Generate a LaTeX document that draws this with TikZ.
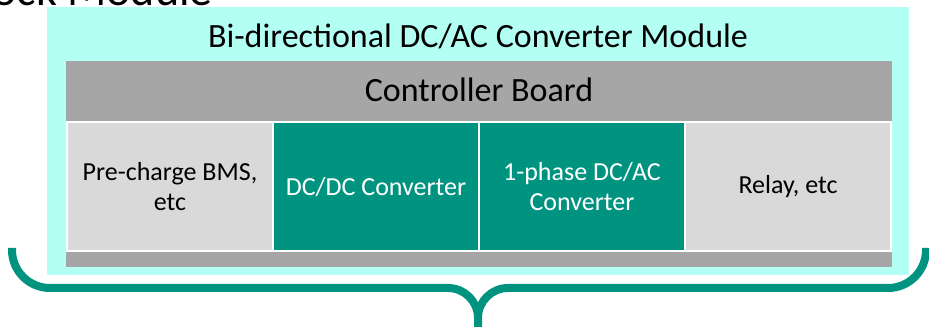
\documentclass[tikz,border=0pt]{standalone}
\usepackage{fontspec}
\setmainfont{Carlito}
\definecolor{modcyan}{RGB}{180,255,244}
\definecolor{boardgray}{RGB}{166,166,166}
\definecolor{partgray}{RGB}{217,217,217}
\definecolor{partteal}{RGB}{0,147,127}
\begin{document}
\begin{tikzpicture}[
    x=0.75pt, y=-0.75pt,
    modbox/.style={rectangle, fill=modcyan, inner sep=0pt,
        minimum width=646.5pt, minimum height=201pt},
    boardbox/.style={rectangle, fill=boardgray, inner sep=0pt,
        minimum width=619.5pt, minimum height=154.5pt},
    heading/.style={anchor=base, inner sep=0pt,
        font=\fontsize{25.5pt}{30pt}\selectfont},
    part/.style={rectangle, draw=white, line width=1.6pt, inner sep=2pt,
        minimum width=154.5pt, minimum height=97pt, align=center,
        font=\fontsize{19.5pt}{22.5pt}\selectfont},
    light/.style={part, fill=partgray, text=black},
    dark/.style={part, fill=partteal, text=white},
    brace/.style={draw=partteal, line width=6pt, line cap=butt}
]
    \useasboundingbox (0,0) rectangle (929,327);
    \clip (0,0) rectangle (929,327);
    % title of the slide, cut at the top
    \node[anchor=base east, inner sep=0pt,
        font=\fontsize{34.5pt}{40pt}\selectfont] (slide) at (213,6) {Block Module};
    % module and controller board
    \node[modbox] (module) at (478,141) {};
    \node[heading] (modtitle) at (478,48) {Bi-directional DC/AC Converter Module};
    \node[boardbox] (board) at (479,164) {};
    \node[heading] (boardtitle) at (479,102) {Controller Board};
    % parts on the board
    \node[light] (bms) at (170,186.75) {Pre-charge BMS,\\etc};
    \node[dark] (dcdc) at (376,186.75) {DC/DC Converter};
    \node[dark] (dcac) at (582,186.75) {1-phase DC/AC\\Converter};
    \node[light] (relay) at (788,186.75) {Relay, etc};
    % brace below
    \draw[brace] (12,248) -- (12,250) .. controls (12,271) and (29,288) .. (50,288)
        -- (448,288) .. controls (464.5,288) and (478,301.5) .. (478,318) -- (478,332);
    \draw[brace] (478,318) .. controls (478,301.5) and (491.5,288) .. (508,288)
        -- (888,288) .. controls (909,288) and (926,271) .. (926,250) -- (926,248);
\end{tikzpicture}
\end{document}
